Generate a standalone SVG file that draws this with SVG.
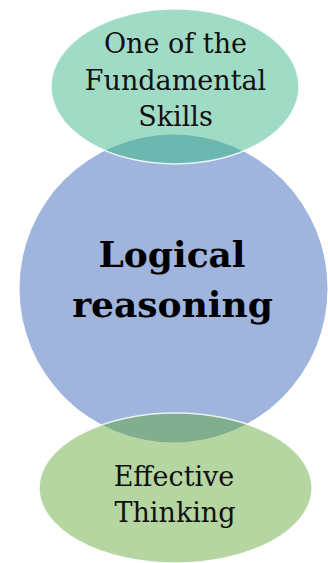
<svg xmlns="http://www.w3.org/2000/svg" width="328" height="563" viewBox="0 0 328 563">
<style>
.lbl{font-family:"DejaVu Serif","Liberation Serif",serif;font-size:27px;fill:#111;text-anchor:middle}
.main{font-family:"DejaVu Serif","Liberation Serif",serif;font-size:36px;font-weight:bold;fill:#000;text-anchor:middle}
.edge{fill:none;stroke:#ffffff;stroke-width:1.5;stroke-opacity:0.8}
</style>
<defs>
<clipPath id="clipTop"><ellipse cx="175" cy="86.5" rx="124" ry="77.5"/></clipPath>
<clipPath id="clipBot"><ellipse cx="175.5" cy="488" rx="136.5" ry="75"/></clipPath>
</defs>
<rect width="328" height="563" fill="#ffffff"/>
<g id="center">
<circle cx="173.5" cy="288.5" r="154" fill="#a0b5de"/>
</g>
<g id="top">
<ellipse cx="175" cy="86.5" rx="124" ry="77.5" fill="#a0dbc6"/>
<circle cx="173.5" cy="288.5" r="154" fill="#6db7b1" clip-path="url(#clipTop)"/>
<ellipse class="edge" cx="175" cy="86.5" rx="124" ry="77.5"/>
<text class="lbl" x="175.5" y="53">One of the</text>
<text class="lbl" x="175.5" y="90">Fundamental</text>
<text class="lbl" x="175.5" y="126">Skills</text>
</g>
<g id="bottom">
<ellipse cx="175.5" cy="488" rx="136.5" ry="75" fill="#b5d5a1"/>
<circle cx="173.5" cy="288.5" r="154" fill="#80ae8e" clip-path="url(#clipBot)"/>
<ellipse class="edge" cx="175.5" cy="488" rx="136.5" ry="75"/>
<text class="lbl" x="174" y="486">Effective</text>
<text class="lbl" x="175" y="522">Thinking</text>
</g>
<g id="center-label">
<text class="main" x="172" y="267">Logical</text>
<text class="main" x="172.5" y="317">reasoning</text>
</g>
<g id="connectors"></g>
</svg>
